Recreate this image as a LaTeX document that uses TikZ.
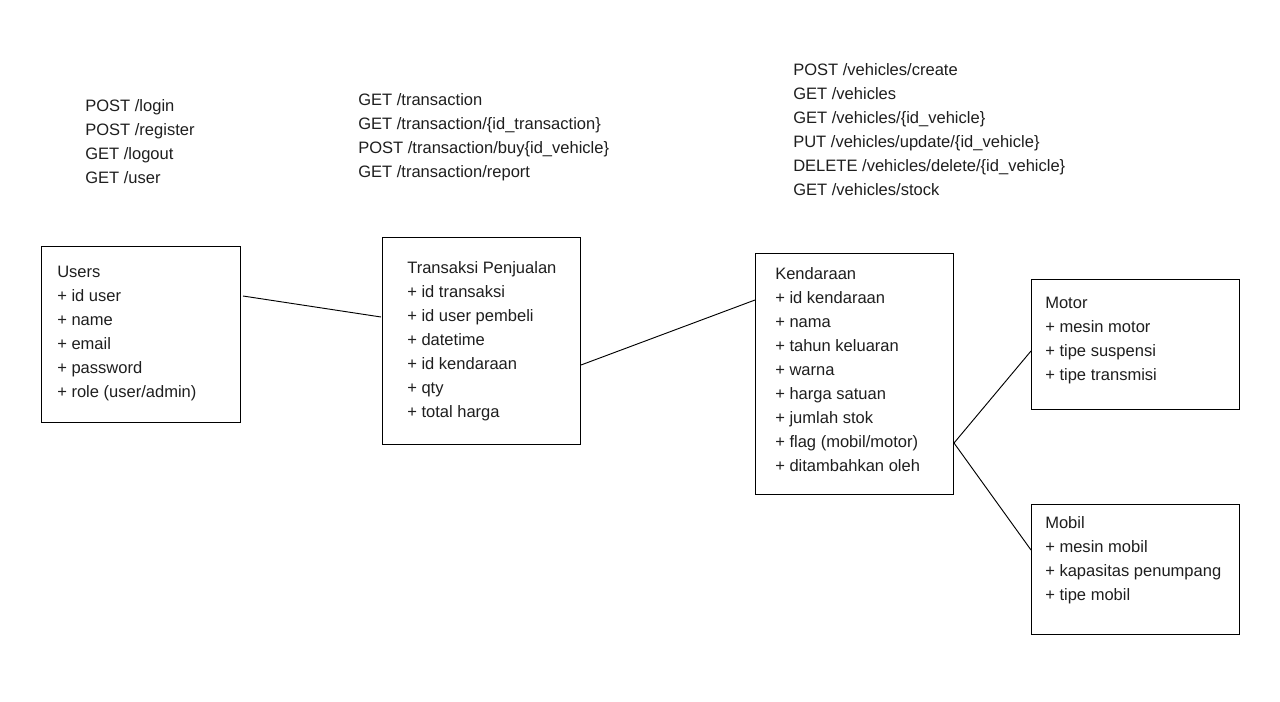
\documentclass[tikz,border=0pt]{standalone}
\usepackage{fontspec}
\setmainfont{Liberation Sans}
\definecolor{ink}{HTML}{1E1E1E}
\tikzset{
  box/.style={draw=black, line width=0.75pt, inner sep=0pt, outer sep=0pt},
  txt/.style={anchor=base west, align=left, inner sep=0pt, text=ink,
    font=\fontsize{12.4}{18}\selectfont},
  link/.style={draw=black, line width=0.7pt}
}
\begin{document}
\begin{tikzpicture}[x=0.75pt, y=-0.75pt]
    \useasboundingbox (0,0) rectangle (1280,702);

    % endpoints (placed at the baseline of the last line)
    \node[txt] (apiUsers) at (85,184) {POST /login\\POST /register\\GET /logout\\GET /user};
    \node[txt] (apiTrans) at (358,178) {GET /transaction\\GET /transaction/\{id\_transaction\}\\POST /transaction/buy\{id\_vehicle\}\\GET /transaction/report};
    \node[txt] (apiVeh) at (793,196) {POST /vehicles/create\\GET /vehicles\\GET /vehicles/\{id\_vehicle\}\\PUT /vehicles/update/\{id\_vehicle\}\\DELETE /vehicles/delete/\{id\_vehicle\}\\GET /vehicles/stock};

    % tables
    \node[box, minimum width=149.25pt, minimum height=132pt] (users) at (140.5,334) {};
    \node[txt] (usersText) at (57,397.5) {Users\\+ id user\\+ name\\+ email\\+ password\\+ role (user/admin)};

    \node[box, minimum width=148.5pt, minimum height=154.5pt] (trans) at (481,341) {};
    \node[txt] (transText) at (407,417.5) {Transaksi Penjualan\\+ id transaksi\\+ id user pembeli\\+ datetime\\+ id kendaraan\\+ qty\\+ total harga};

    \node[box, minimum width=148.5pt, minimum height=180.75pt] (kend) at (854,373.5) {};
    \node[txt] (kendText) at (775,471.5) {Kendaraan\\+ id kendaraan\\+ nama\\+ tahun keluaran\\+ warna\\+ harga satuan\\+ jumlah stok\\+ flag (mobil/motor)\\+ ditambahkan oleh};

    \node[box, minimum width=156pt, minimum height=97.5pt] (motor) at (1135,344) {};
    \node[txt] (motorText) at (1045,380.5) {Motor\\+ mesin motor\\+ tipe suspensi\\+ tipe transmisi};

    \node[box, minimum width=156pt, minimum height=97.5pt] (mobil) at (1135,569) {};
    \node[txt] (mobilText) at (1045,600.5) {Mobil\\+ mesin mobil\\+ kapasitas penumpang\\+ tipe mobil};

    % links
    \coordinate (fork) at ([shift={(1,69.5)}]kend.east);
    \draw[link] ([shift={(3,-38)}]users.east) -- ([shift={(-1,-24)}]trans.west);
    \draw[link] ([shift={(1,24)}]trans.east) -- ([shift={(0,-73.5)}]kend.west);
    \draw[link] (fork) -- ([shift={(0,7)}]motor.west);
    \draw[link] (fork) -- ([shift={(0,-19)}]mobil.west);
\end{tikzpicture}
\end{document}
